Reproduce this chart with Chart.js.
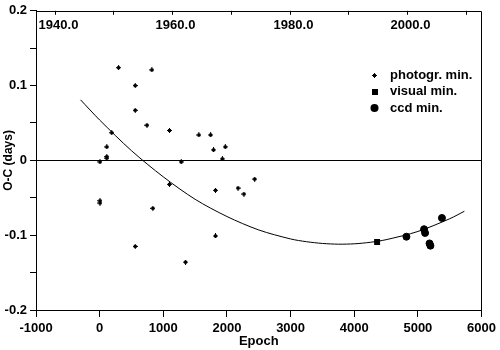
<!DOCTYPE html>
<html>
<head>
<meta charset="utf-8">
<script src="https://cdn.jsdelivr.net/npm/chart.js@4"></script>
<style>
  html, body { margin: 0; padding: 0; background: #fff; }
  #wrap { width: 500px; height: 350px; }
</style>
</head>
<body>
<div id="wrap"><canvas id="ocChart"></canvas></div>
<script>
// O-C data
const photoEpoch = [5, 112, 112, 112, 190, 297, 559, 559, 743, 820, 1097, 1282, 1558, 1743, 1789, 1928, 1974,
                    5, 5, 836, 1097, 559, 1349, 1820, 1820, 2174, 2266, 2435];
const photoOC = [-0.002, 0.003, 0.005, 0.018, 0.037, 0.124, 0.100, 0.067, 0.047, 0.121, 0.040, -0.002, 0.034, 0.034, 0.014, 0.002, 0.018,
                 -0.054, -0.057, -0.064, -0.032, -0.115, -0.136, -0.040, -0.101, -0.037, -0.045, -0.025];

const visualEpoch = [4359];
const visualOC = [-0.109];

const ccdEpoch = [4820, 5097, 5113, 5183, 5197, 5378];
const ccdOC = [-0.102, -0.092, -0.097, -0.111, -0.114, -0.077];

// fitted curve, read at a few epochs
const fitEpoch = [-300, 0, 500, 1000, 1500, 2000, 2500, 3000, 3250, 3500, 3750, 4000, 4250, 4500, 5000, 5500, 5730];
const fitOC = [0.081, 0.054, 0.013, -0.022, -0.052, -0.075, -0.093, -0.105, -0.1087, -0.111, -0.112, -0.1115, -0.1095, -0.106, -0.095, -0.078, -0.068];

// top axis: calendar years
const yearMin = 1936.83;
const yearMax = 2012.67;
const yearTicks = [1940, 1950, 1960, 1970, 1980, 1990, 2000, 2010];
const yearLabels = [1940, 1960, 1980, 2000];

const legendNames = ['photogr. min.', 'visual min.', 'ccd min.'];

const FONT = '"Liberation Sans", Arial, sans-serif';

function pts(xs, ys) {
    return xs.map((x, i) => ({x: x, y: ys[i]}));
}

// small diamond marker for photographic minima
const diamond = document.createElement('canvas');
diamond.width = 5;
diamond.height = 5;
(function () {
    const c = diamond.getContext('2d');
    c.fillStyle = '#000';
    c.fillRect(2, 0, 1, 5);
    c.fillRect(1, 1, 3, 3);
    c.fillRect(0, 2, 5, 1);
})();

const frameAndExtras = {
    id: 'frameAndExtras',
    afterDraw(chart) {
        const ctx = chart.ctx;
        const area = chart.chartArea;
        const s = chart.scales.x2;
        ctx.save();
        ctx.strokeStyle = '#000';
        ctx.fillStyle = '#000';
        ctx.lineWidth = 1;

        // top and right frame lines
        const rx = Math.round(area.right) - 0.5;
        const ty = Math.round(area.top) + 0.5;
        ctx.beginPath();
        ctx.moveTo(area.left, ty);
        ctx.lineTo(rx, ty);
        ctx.lineTo(rx, area.bottom);
        ctx.stroke();

        // top year axis, ticks and labels inside the frame
        ctx.font = 'bold 13px ' + FONT;
        ctx.textAlign = 'center';
        ctx.textBaseline = 'middle';
        yearTicks.forEach(yr => {
            const px = Math.round(s.getPixelForValue(yr)) + 0.5;
            ctx.beginPath();
            ctx.moveTo(px, area.top);
            ctx.lineTo(px, area.top + 4);
            ctx.stroke();
            if (yearLabels.includes(yr)) {
                ctx.fillText(yr.toFixed(1), px + 3, area.top + 15);
            }
        });

        // legend
        const lx = 374.5, tx = 390;
        const rows = [75, 91.5, 108];
        ctx.textAlign = 'left';
        ctx.drawImage(diamond, Math.round(lx - 2.5), Math.round(rows[0] - 2.5));
        ctx.fillRect(Math.round(lx - 3), Math.round(rows[1] - 3), 6, 6);
        ctx.beginPath();
        ctx.arc(lx, rows[2], 4, 0, Math.PI * 2);
        ctx.fill();
        legendNames.forEach((name, i) => ctx.fillText(name, tx, rows[i]));
        ctx.restore();
    }
};

document.addEventListener('DOMContentLoaded', () => {
    Chart.defaults.font.family = FONT;
    Chart.defaults.color = '#000';

    const ctx = document.getElementById('ocChart').getContext('2d');
    new Chart(ctx, {
        type: 'scatter',
        data: {
            datasets: [{
                type: 'line',
                label: 'fit',
                data: pts(fitEpoch, fitOC),
                borderColor: '#000',
                borderWidth: 1,
                pointRadius: 0,
                fill: false,
                tension: 0.3
            }, {
                label: legendNames[0],
                data: pts(photoEpoch, photoOC),
                pointStyle: diamond,
                pointRadius: 3
            }, {
                label: legendNames[1],
                data: pts(visualEpoch, visualOC),
                pointStyle: 'rect',
                pointRadius: 4.2,
                backgroundColor: '#000',
                borderColor: '#000',
                borderWidth: 0
            }, {
                label: legendNames[2],
                data: pts(ccdEpoch, ccdOC),
                pointStyle: 'circle',
                pointRadius: 3.5,
                backgroundColor: '#000',
                borderColor: '#000',
                borderWidth: 1
            }]
        },
        options: {
            responsive: true,
            maintainAspectRatio: false,
            animation: false,
            layout: {
                padding: {top: 7, right: 9, left: 0, bottom: 0}
            },
            scales: {
                x: {
                    type: 'linear',
                    position: 'bottom',
                    min: -1000,
                    max: 6000,
                    ticks: {
                        stepSize: 1000,
                        padding: 4,
                        font: {size: 13, weight: 'bold'},
                        maxRotation: 0,
                        callback: v => String(v)
                    },
                    grid: {
                        drawOnChartArea: false,
                        tickLength: 7,
                        tickColor: '#000'
                    },
                    border: {color: '#000'},
                    title: {
                        display: true,
                        text: 'Epoch',
                        font: {size: 13, weight: 'bold'},
                        padding: {top: 0, bottom: 1}
                    },
                    afterFit: s => { s.height = 40; }
                },
                x2: {
                    type: 'linear',
                    position: 'top',
                    min: yearMin,
                    max: yearMax,
                    ticks: {display: false, stepSize: 10},
                    grid: {drawOnChartArea: false, drawTicks: false},
                    border: {display: false},
                    afterFit: s => { s.height = 0; }
                },
                y: {
                    min: -0.2,
                    max: 0.2,
                    ticks: {
                        stepSize: 0.05,
                        padding: 3,
                        font: {size: 13, weight: 'bold'},
                        callback: v => {
                            const r = Math.round(v * 100);
                            if (r % 10 !== 0) return '';
                            return r === 0 ? '0' : (r / 100).toFixed(1);
                        }
                    },
                    grid: {
                        color: c => (c.tick && Math.abs(c.tick.value) < 1e-9) ? '#000' : 'rgba(0,0,0,0)',
                        tickColor: '#000',
                        tickLength: 6
                    },
                    border: {color: '#000'},
                    title: {
                        display: true,
                        text: 'O-C (days)',
                        font: {size: 12, weight: 'bold'},
                        padding: {top: 1, bottom: 0}
                    },
                    afterFit: s => { s.width = 36; }
                }
            },
            plugins: {
                legend: {display: false},
                tooltip: {enabled: false}
            }
        },
        plugins: [frameAndExtras]
    });
});
</script>
</body>
</html>
